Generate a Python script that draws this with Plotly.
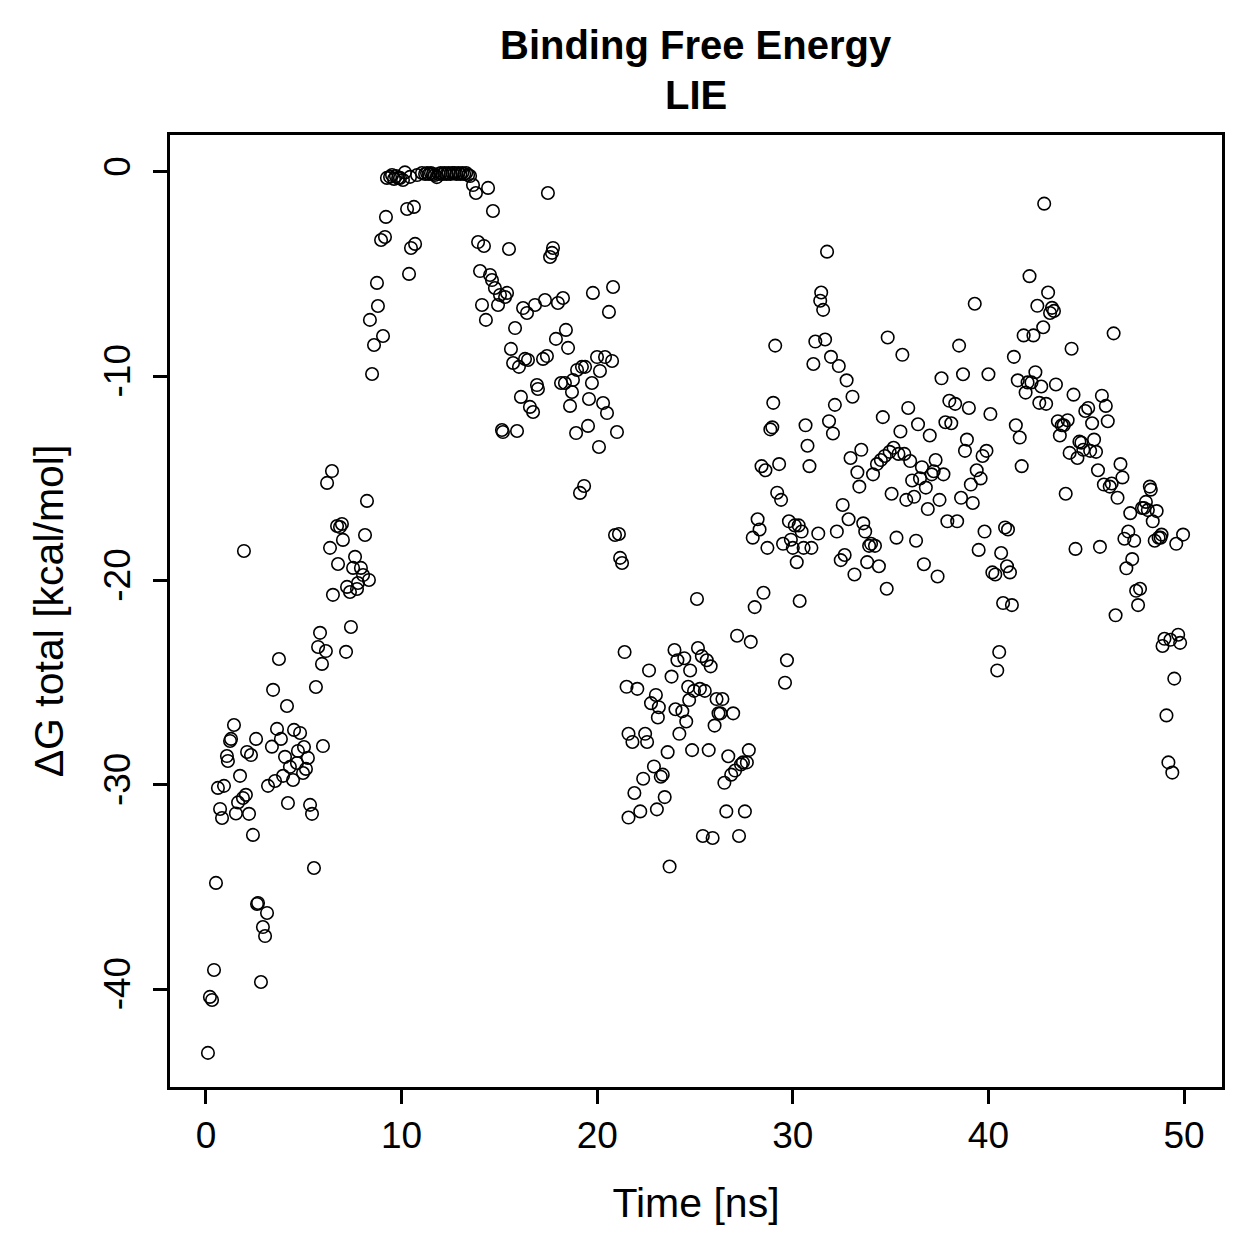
import plotly.graph_objects as go

# ---- data (time in ns, dG total in kcal/mol) ----
t_early = [0.10,0.20,0.31,0.41,0.51,0.61,0.72,0.82,0.92,1.07,1.12,1.23,1.28,1.43,1.53,1.64,1.74,1.89,1.94,2.04,
           2.10,2.20,2.30,2.40,2.56,2.61,2.66,2.81,2.91,3.02,3.12,3.17,3.37,3.43,3.53,3.63,3.73,3.83,3.94,4.04,
           4.14,4.19,4.29,4.45,4.50,4.65,4.70,4.81,4.96,5.01,5.11,5.21,5.32,5.42,5.52,5.62,5.73,5.83,5.93,5.98,
           6.13,6.19,6.34,6.44,6.49,6.70,6.75,6.85,6.95,7.00,7.16,7.21,7.36,7.41,7.52,7.62,7.72,7.77,7.92,8.03,
           8.13,8.23,8.33]
g_early = [-43.12,-40.38,-40.53,-39.06,-34.80,-30.15,-31.18,-31.62,-30.05,-28.59,-28.83,-27.85,-27.75,-27.07,-31.40,-30.86,-29.56,-30.64,-18.55,-30.49,
           -28.39,-31.42,-28.54,-32.45,-27.75,-35.83,-35.78,-39.65,-36.96,-37.40,-36.27,-30.05,-28.13,-25.35,-29.81,-27.26,-23.84,-27.75,-29.56,-28.63,
           -26.14,-30.89,-29.12,-29.76,-27.31,-28.93,-28.34,-27.46,-29.42,-28.15,-29.22,-28.68,-30.98,-31.42,-34.07,-25.21,-23.25,-22.56,-24.08,-28.10,
           -23.45,-15.22,-18.40,-14.64,-20.70,-17.33,-19.19,-17.38,-17.23,-18.01,-23.49,-20.31,-20.56,-22.27,-19.38,-18.84,-20.41,-20.12,-19.38,-19.73,
           -17.77,-16.10,-19.97]

t_rise = [8.38,8.49,8.59,8.74,8.79,8.95,9.05,9.15,9.20,9.25,9.41,9.51,9.61,9.71,9.82,9.92,10.07,10.17,10.28,10.38,
          10.43,10.48,10.63,10.69,10.79,11.04,11.2,11.3,11.4,11.5,11.6,11.7,11.8,11.9,12.0,12.1,12.2,12.3,12.4,12.5,
          12.6,12.7,12.8,12.9,13.0,13.1,13.2,13.3,13.4,13.5]
g_rise = [-7.24,-9.89,-8.47,-5.43,-6.56,-3.33,-8.03,-3.18,-2.20,-0.29,-0.24,-0.15,-0.34,-0.20,-0.29,-0.29,-0.39,-0.02,-1.81,-4.99,
          -0.24,-3.72,-1.71,-3.52,-0.15,-0.05,-0.10,-0.05,-0.10,-0.05,-0.10,-0.15,-0.25,-0.10,-0.05,-0.10,-0.05,-0.10,-0.05,-0.10,
          -0.05,-0.05,-0.10,-0.05,-0.10,-0.05,-0.10,-0.05,-0.15,-0.20]

t_fall = [13.65,13.80,13.91,14.01,14.11,14.21,14.31,14.42,14.52,14.62,14.67,14.77,14.93,15.03,15.13,15.18,15.29,15.39,15.49,15.59,
          15.70,15.80,15.90,16.00,16.10,16.21,16.31,16.41,16.46,16.56,16.72,16.82,16.92,16.97,17.23,17.33,17.43,17.48,17.59,17.69,
          17.74,17.89,17.99,18.15,18.25,18.35,18.40,18.51,18.61,18.71,18.76,18.92,18.97,19.12,19.22,19.33,19.38,19.53,19.58,19.73,
          19.78,19.99,20.09,20.14,20.30,20.40,20.50,20.60,20.76,20.81,20.91,21.01,21.11,21.17,21.27]
g_fall = [-0.64,-1.03,-3.43,-4.85,-6.51,-3.62,-7.24,-0.78,-5.04,-5.29,-1.91,-5.68,-6.51,-6.02,-12.63,-12.73,-6.12,-5.92,-3.77,-8.66,
          -9.35,-7.64,-12.68,-9.54,-11.01,-6.66,-9.15,-6.90,-9.20,-11.50,-11.75,-6.51,-10.43,-10.62,-9.15,-6.27,-9.01,-1.03,-4.16,-3.96,
          -3.72,-8.17,-6.41,-10.33,-6.17,-10.33,-7.73,-8.61,-11.45,-10.77,-10.18,-12.78,-9.69,-15.71,-9.54,-15.37,-9.54,-12.43,-11.11,-10.33,
          -5.92,-9.06,-13.46,-9.74,-11.31,-9.06,-11.80,-6.85,-9.25,-5.63,-17.77,-12.73,-17.72,-18.89,-19.14]

t_dip = [21.4,21.5,21.6,21.6,21.8,21.9,22.05,22.2,22.35,22.45,22.55,22.65,22.75,22.9,23.0,23.05,23.1,23.15,23.25,23.35,
         23.45,23.6,23.7,23.8,23.95,24.0,24.1,24.2,24.35,24.45,24.55,24.65,24.7,24.75,24.85,24.95,25.1,25.15,25.25,25.35,
         25.4,25.5,25.6,25.7,25.8,25.9,26.0,26.1,26.2,26.3,26.4,26.5,26.6,26.7,26.85,26.95,27.05,27.15,27.25,27.35,
         27.45,27.55,27.65,27.75,27.85]
g_dip = [-23.5,-25.2,-27.5,-31.6,-27.9,-30.4,-25.3,-31.3,-29.7,-27.5,-27.9,-24.4,-26.0,-29.1,-25.6,-31.2,-26.7,-26.2,-29.6,-29.5,
         -30.6,-28.4,-34.0,-24.7,-23.4,-26.3,-23.9,-27.5,-26.4,-23.8,-26.9,-25.2,-25.85,-24.4,-28.3,-25.4,-20.9,-23.3,-25.3,-23.7,
         -32.5,-25.4,-23.9,-28.3,-24.2,-32.6,-27.1,-25.8,-26.5,-26.5,-25.8,-29.9,-31.3,-28.6,-29.5,-26.5,-29.3,-22.7,-32.5,-29.0,
         -28.9,-31.3,-28.9,-28.3,-23.0]

t_late = [27.95,28.05,28.2,28.3,28.4,28.5,28.6,28.7,28.85,28.95,29.0,29.1,29.2,29.3,29.4,29.5,29.6,29.7,29.8,29.9,
          30.0,30.1,30.2,30.3,30.35,30.45,30.55,30.65,30.75,30.85,30.95,31.05,31.15,31.3,31.4,31.45,31.55,31.65,31.75,31.85,
          31.95,32.05,32.15,32.25,32.35,32.45,32.55,32.65,32.75,32.85,32.95,33.05,33.15,33.3,33.4,33.5,33.6,33.7,33.8,33.9,
          34.0,34.1,34.2,34.3,34.4,34.5,34.6,34.7,34.8,34.85,34.95,35.05,35.15,35.3,35.4,35.5,35.6,35.7,35.8,35.9,
          36.0,36.1,36.2,36.3,36.4,36.5,36.6,36.7,36.8,36.9,37.0,37.1,37.2,37.3,37.4,37.5,37.6,37.7,37.8,37.9,
          38.0,38.1,38.3,38.4,38.5,38.6,38.7,38.8,38.9,39.0,39.1,39.2,39.3,39.4,39.5,39.6,39.7,39.8,39.9,40.0,
          40.1,40.2,40.35,40.45,40.55,40.65,40.75,40.85,40.95,41.0,41.1,41.2,41.3,41.4,41.5,41.6,41.7,41.8,41.9,42.0,
          42.1,42.2,42.3,42.4,42.5,42.6,42.7,42.8,42.85,42.95,43.05,43.15,43.25,43.35,43.45,43.55,43.65,43.75,43.85,43.95,
          44.05,44.15,44.25,44.35,44.45,44.55,44.65,44.75,44.85,44.95,45.1,45.2,45.3,45.4,45.5,45.6,45.7,45.8,45.9,46.0,
          46.1,46.2,46.3,46.4,46.5,46.6,46.75,46.85,46.95,47.05,47.15,47.25,47.35,47.45,47.55,47.65,47.75,47.85,47.95,48.05,
          48.15,48.25,48.3,48.4,48.5,48.6,48.7,48.8,48.85,48.9,49.0,49.1,49.2,49.3,49.4,49.5,49.6,49.7,49.8,49.95]
g_late = [-17.9,-21.3,-17.0,-17.5,-14.4,-20.6,-14.6,-18.4,-12.6,-12.5,-11.3,-8.5,-15.7,-14.3,-16.05,-18.2,-25.0,-23.9,-17.1,-18.0,
          -18.4,-17.3,-19.1,-17.3,-21.0,-17.6,-18.4,-12.4,-13.4,-14.4,-18.4,-9.4,-8.3,-17.7,-6.3,-5.9,-6.75,-8.2,-3.9,-12.2,
          -9.05,-12.8,-11.4,-17.6,-9.5,-19.0,-16.3,-18.75,-10.2,-17.0,-14.0,-11.0,-19.7,-14.7,-15.4,-13.6,-17.2,-17.6,-19.1,-18.3,
          -18.2,-14.8,-18.3,-14.3,-19.3,-14.1,-12.0,-13.9,-20.4,-8.1,-13.7,-15.75,-13.5,-17.9,-13.8,-12.7,-8.95,-13.8,-16.05,-11.55,
          -14.15,-15.1,-15.9,-18.05,-12.35,-15.0,-14.45,-19.2,-15.45,-16.5,-12.9,-14.8,-14.65,-14.1,-19.8,-16.05,-10.1,-14.8,-12.25,-17.1,
          -11.2,-12.3,-11.35,-17.1,-8.5,-15.95,-9.9,-13.65,-13.1,-11.55,-15.3,-16.2,-6.45,-14.6,-18.5,-15.0,-13.9,-17.6,-13.65,-9.9,
          -11.85,-19.6,-19.7,-24.4,-23.5,-18.65,-21.1,-17.4,-19.3,-17.5,-19.6,-21.2,-9.05,-12.4,-10.2,-13.0,-14.4,-8.0,-10.8,-10.3,
          -5.1,-10.3,-8.0,-9.8,-6.55,-11.3,-10.5,-7.6,-1.55,-11.35,-5.9,-6.9,-6.65,-6.8,-10.4,-12.2,-12.9,-12.4,-12.4,-15.75,
          -12.15,-13.75,-8.65,-10.9,-18.45,-14.0,-13.2,-13.25,-13.6,-11.7,-11.55,-13.65,-12.3,-13.1,-13.7,-14.6,-18.35,-10.95,-15.3,-11.45,
          -12.2,-15.4,-15.25,-7.9,-21.7,-15.95,-14.3,-14.95,-17.95,-19.4,-17.6,-16.7,-18.95,-18.05,-20.5,-21.2,-20.4,-16.45,-16.45,-16.15,
          -16.55,-15.4,-15.55,-17.1,-18.05,-16.6,-17.9,-17.9,-17.75,-23.2,-22.85,-26.6,-28.9,-22.9,-29.4,-24.8,-18.2,-22.65,-23.05,-17.75]

x_ticks = [0, 10, 20, 30, 40, 50]
y_ticks = [0, -10, -20, -30, -40]
title_lines = ["Binding Free Energy", "LIE"]

time_ns = t_early + t_rise + t_fall + t_dip + t_late
dg_total = g_early + g_rise + g_fall + g_dip + g_late

FONT = "Liberation Sans, Arial, Helvetica, sans-serif"

fig = go.Figure()
fig.add_trace(go.Scatter(
    x=time_ns, y=dg_total, mode="markers",
    marker=dict(symbol="circle-open", size=12.5, color="black", line=dict(width=1.6, color="black")),
    showlegend=False, hoverinfo="x+y"))

axis_common = dict(showgrid=False, zeroline=False, showline=True, linecolor="black", linewidth=2.5,
                   mirror=True, ticks="outside", ticklen=14, tickwidth=2.5, tickcolor="black",
                   tickfont=dict(family=FONT, size=37, color="black"))

fig.update_xaxes(range=[-1.84, 51.94], tickvals=x_ticks, ticktext=[str(v) for v in x_ticks],
                 title=dict(text="Time [ns]", font=dict(family=FONT, size=41, color="black"), standoff=34),
                 **axis_common)
fig.update_yaxes(range=[-44.79, 1.81], tickvals=y_ticks, ticktext=[str(v) for v in y_ticks], tickangle=-90,
                 ticklabelstandoff=8,
                 title=dict(text="ΔG total [kcal/mol]", font=dict(family=FONT, size=41, color="black"), standoff=22),
                 **axis_common)

# two-line bold title placed at the reference's positions
plot_top, plot_bottom = 135, 1087
for line, py in zip(title_lines, [45, 95]):
    fig.add_annotation(text=f"<b>{line}</b>", xref="paper", yref="paper", x=0.5,
                       y=(plot_bottom - py) / (plot_bottom - plot_top),
                       xanchor="center", yanchor="middle", showarrow=False,
                       font=dict(family=FONT, size=40, color="black"))

fig.update_layout(
    width=1259, height=1259, autosize=False,
    margin=dict(l=170, r=37, t=135, b=172),
    paper_bgcolor="white", plot_bgcolor="white",
)

fig.write_html("out.html")
